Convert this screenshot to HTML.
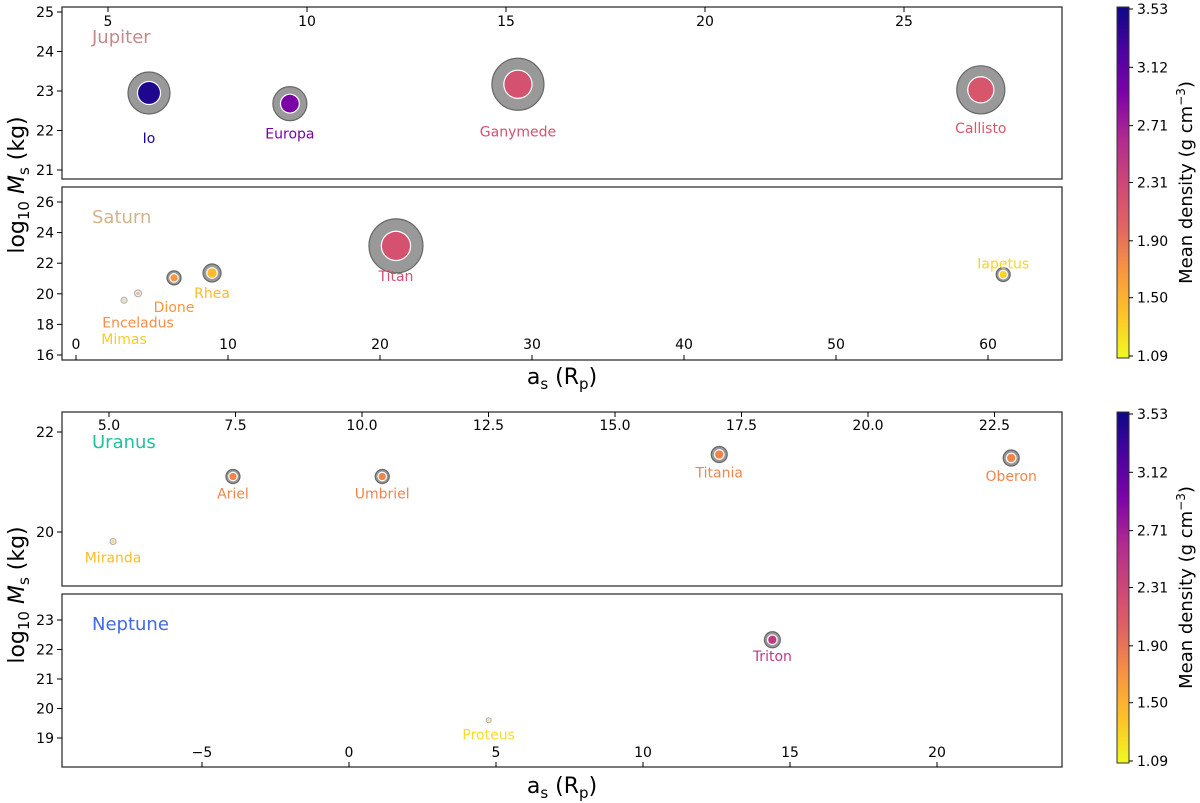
<!DOCTYPE html>
<html><head><meta charset="utf-8">
<style>
body{margin:0;background:#fff;}
svg{display:block;font-family:"DejaVu Sans","Liberation Sans",sans-serif;}
</style></head>
<body>
<svg id="fig" width="1200" height="803" viewBox="0 0 1200 803" xmlns="http://www.w3.org/2000/svg">
<defs>
<linearGradient id="plasma" x1="0" y1="1" x2="0" y2="0">
<stop offset="0" stop-color="#f0f921"/><stop offset="0.125" stop-color="#fdc328"/><stop offset="0.25" stop-color="#f89540"/><stop offset="0.375" stop-color="#e16462"/><stop offset="0.5" stop-color="#cc4778"/><stop offset="0.625" stop-color="#b12a90"/><stop offset="0.75" stop-color="#7e03a8"/><stop offset="0.875" stop-color="#4c02a1"/><stop offset="1" stop-color="#0d0887"/>
</linearGradient>
</defs>
</svg>
<script>
// ---- data ----
const jupNames=["Io","Europa","Ganymede","Callisto"];
const jupA=[6.03,9.57,15.3,26.93];
const jupM=[22.95,22.68,23.17,23.03];
const jupRho=[3.45,2.95,2.2,2.15];
const jupSize=[21,17,26,24];
const satNames=["Mimas","Enceladus","Dione","Rhea","Titan","Iapetus"];
const satA=[3.16,4.08,6.45,8.95,21.05,61.0];
const satM=[19.58,20.03,21.04,21.36,23.13,21.26];
const satRho=[1.35,1.75,1.7,1.45,2.2,1.3];
const satSize=[3,3.5,7,9,27,7];
const uraNames=["Miranda","Ariel","Umbriel","Titania","Oberon"];
const uraA=[5.08,7.45,10.4,17.06,22.83];
const uraM=[19.81,21.11,21.11,21.55,21.48];
const uraRho=[1.45,1.8,1.8,1.8,1.8];
const uraSize=[3,7,7,8,8];
const nepNames=["Triton","Proteus"];
const nepA=[14.4,4.75];
const nepM=[22.33,19.6];
const nepRho=[2.45,1.25];
const nepSize=[8,2.5];
const cbTicks=[1.09,1.50,1.90,2.31,2.71,3.12,3.53];

// label offsets (layout)
const jupLab=[45,30,47,38], satLab=[39,29,29,20,30,-11], uraLab=[16,17,17,18,18], nepLab=[16,14];

const NS="http://www.w3.org/2000/svg";
const svg=document.getElementById('fig');
function el(t,a,p){const e=document.createElementNS(NS,t);for(const k in a)e.setAttribute(k,a[k]);(p||svg).appendChild(e);return e;}
const stops=[[0,[240,249,33]],[0.125,[253,195,40]],[0.25,[248,149,64]],[0.375,[225,100,98]],[0.5,[204,71,120]],[0.625,[177,42,144]],[0.75,[126,3,168]],[0.875,[76,2,161]],[1,[13,8,135]]];
function cmap(r){let t=(r-1.09)/(3.53-1.09);t=Math.max(0,Math.min(1,t));
 for(let i=1;i<stops.length;i++){if(t<=stops[i][0]){const a=stops[i-1],b=stops[i];const f=(t-a[0])/(b[0]-a[0]);
 const c=a[1].map((v,j)=>Math.round(v+(b[1][j]-v)*f));return `rgb(${c})`;}}return 'rgb(13,8,135)';}

function panel(o){
 const g=el('g',{});  
 const sx=v=>o.x0px+(v-o.x0)*o.xs, sy=v=>o.y0px-(v-o.y0)*o.ys;
 el('rect',{x:o.L,y:o.T,width:o.R-o.L,height:o.B-o.T,fill:'#fff',stroke:'#333','stroke-width':1.3},g);
 o.yt.forEach(v=>{const y=sy(v);el('line',{x1:o.L-5,x2:o.L,y1:y,y2:y,stroke:'#000'},g);
  const t=el('text',{x:o.L-8,y:y+5,'text-anchor':'end','font-size':14},g);t.textContent=v;});
 o.xt.forEach(v=>{const x=sx(v);
  if(o.xTop){el('line',{x1:x,x2:x,y1:o.T,y2:o.T+5,stroke:'#000'},g);}
  else{el('line',{x1:x,x2:x,y1:o.B-5,y2:o.B,stroke:'#000'},g);}
  const t=el('text',{x:x,y:o.xLabY,'text-anchor':'middle','font-size':14},g);t.textContent=(v<0?'\u2212'+(-v):(o.fmt?v.toFixed(1):v));});
 const lab=el('text',{x:o.L+30,y:o.T+36,'font-size':18,fill:o.color},g);lab.textContent=o.label;
 
 o.names.forEach((n,i)=>{const x=sx(o.a[i]),y=sy(o.m[i]);const s=o.size[i];const c=cmap(o.rho[i]);
  const mg=el('g',{},g);
  if(s>4){el('circle',{cx:x,cy:y,r:s,fill:'#999',stroke:'#666','stroke-width':1.2},mg);
   const ri=Math.max(3,s*0.52);el('circle',{cx:x,cy:y,r:ri+1.2,fill:'#fff'},mg);el('circle',{cx:x,cy:y,r:ri,fill:c},mg);}
  else{el('circle',{cx:x,cy:y,r:s,fill:'#eee',stroke:'#aaa','stroke-width':1},mg);el('circle',{cx:x,cy:y,r:s*0.5,fill:c,'fill-opacity':0.5},mg);}
  const t=el('text',{x:x,y:y+o.lab[i]+5,'text-anchor':'middle','font-size':14,fill:c},mg);t.textContent=n;});
 return {sx,sy};
}
panel({name:'jupiter',label:'Jupiter',color:'#c48a8a',L:62,R:1062,T:7,B:179,x0:5,x0px:108,xs:39.8,y0:21,y0px:170,ys:39.5,
 yt:[21,22,23,24,25],xt:[5,10,15,20,25],xTop:true,xLabY:26,names:jupNames,a:jupA,m:jupM,rho:jupRho,size:jupSize,lab:jupLab});
panel({name:'saturn',label:'Saturn',color:'#d2b48c',L:62,R:1062,T:187,B:360,x0:0,x0px:76,xs:15.2,y0:16,y0px:355,ys:15.3,
 yt:[16,18,20,22,24,26],xt:[0,10,20,30,40,50,60],xTop:false,xLabY:349,names:satNames,a:satA,m:satM,rho:satRho,size:satSize,lab:satLab});
panel({name:'uranus',label:'Uranus',color:'#20c0a0',L:62,R:1062,T:412,B:586,x0:5,x0px:109,xs:50.6,y0:20,y0px:532,ys:50,
 yt:[20,22],xt:[5,7.5,10,12.5,15,17.5,20,22.5],xTop:true,fmt:true,xLabY:430,names:uraNames,a:uraA,m:uraM,rho:uraRho,size:uraSize,lab:uraLab});
panel({name:'neptune',label:'Neptune',color:'#4169e1',L:62,R:1062,T:594,B:767,x0:0,x0px:349,xs:29.4,y0:19,y0px:738,ys:29.5,
 yt:[19,20,21,22,23],xt:[-5,0,5,10,15,20],xTop:false,xLabY:757,names:nepNames,a:nepA,m:nepM,rho:nepRho,size:nepSize,lab:nepLab});

// axis titles
[[185,'y-axis-title-top'],[595,'y-axis-title-bottom']].forEach(([cy,n])=>{
 const t=el('text',{x:0,y:0,'font-size':22,'text-anchor':'middle',transform:`translate(24,${cy}) rotate(-90)`});
 t.innerHTML='log<tspan font-size="15" dy="5">10</tspan><tspan dy="-5"> </tspan><tspan font-style="italic">M</tspan><tspan font-size="15" dy="5">s</tspan><tspan dy="-5"> (kg)</tspan>';
 });
[[384,'x-axis-title-top'],[793,'x-axis-title-bottom']].forEach(([y,n])=>{
 const t=el('text',{x:562,y:y,'font-size':22,'text-anchor':'middle'});
 t.innerHTML='a<tspan font-size="15" dy="5">s</tspan><tspan dy="-5"> (R</tspan><tspan font-size="15" dy="5">p</tspan><tspan dy="-5">)</tspan>';
 });

// colorbars
[[7,358,'colorbar-top'],[412,763,'colorbar-bottom']].forEach(([top,bot,n])=>{
 const g=el('g',{});
 el('rect',{x:1117,y:top,width:12,height:bot-top,fill:'url(#plasma)',stroke:'#333','stroke-width':1},g);
 cbTicks.forEach(v=>{const y=bot-(v-1.09)/(3.53-1.09)*(bot-top-4)-2;
  el('line',{x1:1129,x2:1133,y1:y,y2:y,stroke:'#000'},g);
  const t=el('text',{x:1137,y:y+5,'font-size':14},g);t.textContent=v.toFixed(2);});
 const t=el('text',{x:0,y:0,'font-size':18,'text-anchor':'middle',transform:`translate(1192,${(top+bot)/2}) rotate(-90)`},g);
 t.innerHTML='Mean density (g cm<tspan font-size="12" dy="-7">\u22123</tspan><tspan dy="7">)</tspan>';
});
</script>
</body></html>
